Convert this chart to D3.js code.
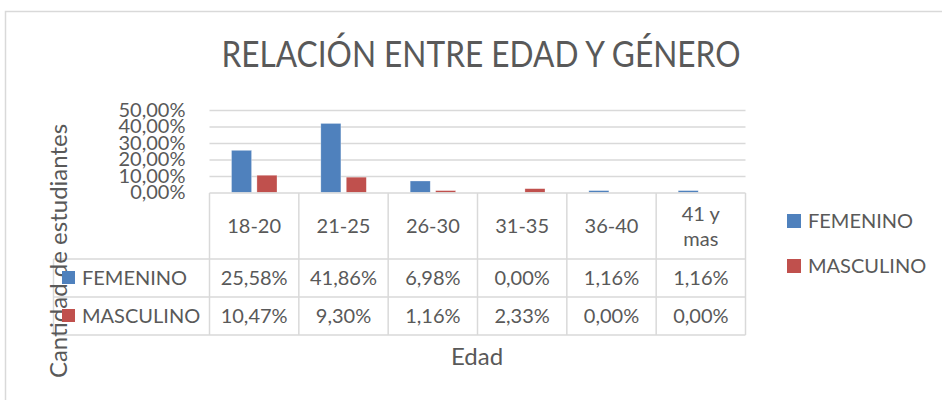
<!DOCTYPE html>
<html>
<head>
<meta charset="utf-8">
<script src="https://cdn.jsdelivr.net/npm/d3@7"></script>
<style>
  body { margin: 0; background: #fff; }
  text { font-family: Lato, "Open Sans", sans-serif; fill: #595959; }
</style>
</head>
<body>
<div id="chart"></div>
<script>
// data (percent)
const categories = ["18-20", "21-25", "26-30", "31-35", "36-40", "41 y mas"];
const seriesNames = ["FEMENINO", "MASCULINO"];
const femenino = [25.58, 41.86, 6.98, 0.00, 1.16, 1.16];
const masculino = [10.47, 9.30, 1.16, 2.33, 0.00, 0.00];
const yTicks = [0, 10, 20, 30, 40, 50];
const colors = ["#4F81BD", "#C0504D"];

const width = 942, height = 400;
const gridColor = "#D9D9D9";

const svg = d3.select("#chart").append("svg")
  .attr("width", width)
  .attr("height", height);

// chart frame
svg.append("rect")
  .attr("x", 5.5).attr("y", 11.5)
  .attr("width", 960).attr("height", 420)
  .attr("fill", "none")
  .attr("stroke", gridColor)
  .attr("stroke-width", 1.5);

svg.append("text")
  .attr("x", 481).attr("y", 67)
  .attr("text-anchor", "middle")
  .attr("textLength", 519)
  .attr("lengthAdjust", "spacingAndGlyphs")
  .style("font-size", "36px")
  .text("RELACIÓN ENTRE EDAD Y GÉNERO");

const plotLeft = 209.5, plotRight = 745.5;
const x0 = d3.scaleBand().domain(categories).range([plotLeft, plotRight]);
const x1 = d3.scaleBand().domain(seriesNames).range([22, 67.5]).paddingInner(0.21);
const y = d3.scaleLinear().domain([0, 50]).range([192.5, 110]);

// gridlines
svg.append("g")
  .attr("transform", `translate(${plotLeft},0)`)
  .call(d3.axisLeft(y).tickValues(yTicks.slice(1)).tickSize(-(plotRight - plotLeft)).tickFormat(""))
  .call(g => g.select(".domain").remove())
  .call(g => g.selectAll("line").attr("stroke", gridColor).attr("stroke-width", 1.5));

// y labels
const pct = v => d3.format(".2f")(v).replace(".", ",") + "%";
svg.append("g")
  .attr("transform", `translate(${plotLeft},0)`)
  .call(d3.axisLeft(y).tickValues(yTicks).tickSize(0).tickPadding(24).tickFormat(pct))
  .call(g => g.select(".domain").remove())
  .call(g => g.selectAll("text").style("font-size", "20px").attr("fill", "#595959").style("font-family", "Lato, sans-serif"));

// bars
const series = [femenino, masculino];
const groups = svg.append("g").selectAll("g")
  .data(categories)
  .join("g")
  .attr("transform", d => `translate(${x0(d)},0)`);

groups.selectAll("rect")
  .data((d, i) => seriesNames.map((s, j) => ({ s, v: series[j][i], c: colors[j] })))
  .join("rect")
  .attr("x", d => x1(d.s))
  .attr("y", d => y(d.v))
  .attr("width", x1.bandwidth())
  .attr("height", d => y(0) - y(d.v))
  .attr("fill", d => d.c)
  .attr("stroke", "#fff")
  .attr("stroke-opacity", 0.5)
  .attr("stroke-width", 0.6);

// data table
const tTop = 193, tHead = 259, tRow1 = 297, tBottom = 335, tLeft = 53.5;
const tg = svg.append("g").attr("stroke", gridColor).attr("stroke-width", 1.5);
[tHead, tRow1, tBottom].forEach(yy =>
  tg.append("line").attr("x1", tLeft).attr("x2", plotRight).attr("y1", yy).attr("y2", yy));
tg.append("line").attr("x1", plotLeft).attr("x2", plotRight).attr("y1", tTop).attr("y2", tTop);
tg.append("line").attr("x1", tLeft).attr("x2", tLeft).attr("y1", tHead).attr("y2", tBottom);
categories.concat([null]).forEach(c => {
  const xx = c === null ? plotRight : x0(c);
  tg.append("line").attr("x1", xx).attr("x2", xx).attr("y1", tTop).attr("y2", tBottom);
});

// y axis title (drawn under table text)
svg.append("text")
  .attr("transform", "translate(67,251) rotate(-90)")
  .attr("text-anchor", "middle")
  .style("font-size", "24px")
  .text("Cantidad de estudiantes");

// header labels, wrapped when too wide
const head = svg.append("g");
categories.forEach(c => {
  const cx = x0(c) + x0.bandwidth() / 2;
  const t = head.append("text").attr("x", cx).attr("y", 233).attr("text-anchor", "middle")
    .style("font-size", "20px").text(c);
  if (t.node().getComputedTextLength() > x0.bandwidth() - 16) {
    const words = c.split(" ");
    t.text(words.slice(0, 2).join(" ")).attr("y", 221);
    head.append("text").attr("x", cx).attr("y", 246).attr("text-anchor", "middle")
      .style("font-size", "20px").text(words.slice(2).join(" "));
  }
});

// table rows
const rowCenters = [278, 316];
series.forEach((vals, j) => {
  const ry = rowCenters[j];
  svg.append("rect").attr("x", 62).attr("y", ry - 7).attr("width", 13).attr("height", 13).attr("fill", colors[j]);
  svg.append("text").attr("x", 82).attr("y", ry + 7).style("font-size", "20px").text(seriesNames[j]);
  vals.forEach((v, i) => {
    svg.append("text")
      .attr("x", x0(categories[i]) + x0.bandwidth() / 2)
      .attr("y", ry + 7)
      .attr("text-anchor", "middle")
      .style("font-size", "20px")
      .text(pct(v));
  });
});

// legend
const legend = svg.append("g").selectAll("g")
  .data(seriesNames)
  .join("g")
  .attr("transform", (d, i) => `translate(787,${214 + i * 45})`);
legend.append("rect").attr("width", 14).attr("height", 14).attr("fill", (d, i) => colors[i]);
legend.append("text").attr("x", 21).attr("y", 14).style("font-size", "20px").text(d => d);

svg.append("text")
  .attr("x", 477).attr("y", 365)
  .attr("text-anchor", "middle")
  .style("font-size", "24px")
  .text("Edad");
</script>
</body>
</html>
